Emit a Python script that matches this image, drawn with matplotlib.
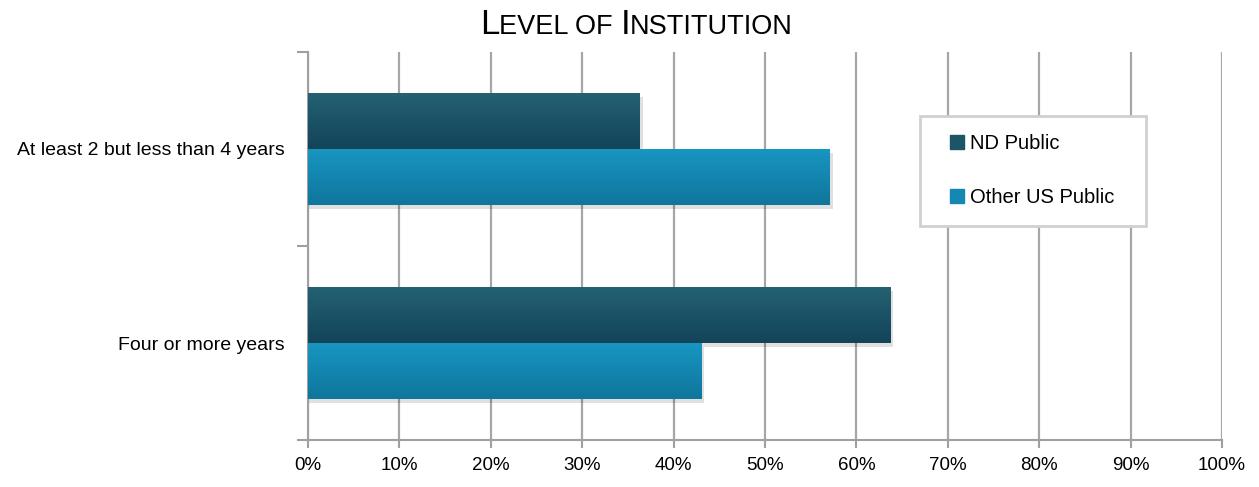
import matplotlib
matplotlib.use("Agg")
import matplotlib.pyplot as plt
import numpy as np
from matplotlib.colors import LinearSegmentedColormap
from matplotlib.patches import Rectangle

# data
categories = ["At least 2 but less than 4 years", "Four or more years"]
series_names = ["ND Public", "Other US Public"]
nd_public = [36.3, 63.7]
other_us = [57.1, 43.0]
x_ticks = [0, 10, 20, 30, 40, 50, 60, 70, 80, 90, 100]

# gradient colours (top, bottom) and legend colour
grad_colors = [("#246272", "#13445a"), ("#1896c2", "#0f769c")]
legend_colors = ["#1c5468", "#1488b3"]

plt.rcParams['font.family'] = ['Liberation Sans Narrow', 'Liberation Sans', 'DejaVu Sans']

fig = plt.figure(figsize=(12.59, 4.87), dpi=100)
ax = fig.add_axes([308/1259, 1-440/487, (1222-308)/1259, (440-52)/487])

y = np.arange(len(categories))
h = 0.29

for i, vals in enumerate([nd_public, other_us]):
    off = -h/2 if i == 0 else h/2
    # shadow
    ax.barh(y + off + 0.02, np.array(vals) + 0.35, height=h, left=0,
            color="#000000", alpha=0.12, zorder=2, linewidth=0)
    bars = ax.barh(y + off, vals, height=h, color=legend_colors[i], zorder=3,
                   linewidth=0, label=series_names[i])
    cmap = LinearSegmentedColormap.from_list("g%d" % i, list(grad_colors[i]))
    grad = np.linspace(0, 1, 64).reshape(-1, 1)
    for b in bars:
        x0, y0 = b.get_x(), b.get_y()
        w, bh = b.get_width(), b.get_height()
        im = ax.imshow(grad, extent=(x0, x0 + w, y0 + bh, y0), aspect='auto',
                       cmap=cmap, zorder=3.5, interpolation='bilinear')
        im.set_clip_path(b)

ax.set_xlim(0, 100)
ax.set_ylim(1.5, -0.5)
ax.set_xticks(x_ticks)
ax.set_xticklabels(["%d%%" % t for t in x_ticks])
ax.set_yticks(y)
ax.set_yticklabels(categories)
ax.set_yticks([-0.5, 0.5, 1.5], minor=True)
ax.tick_params(axis='y', which='major', length=0, pad=16.5, labelsize=14)
ax.tick_params(axis='y', which='minor', length=8, width=1.5, color="#a0a0a0")
ax.tick_params(axis='x', length=6, width=1.5, color="#a0a0a0", labelsize=13.5, pad=6)
ax.grid(axis='x', color="#a6a6a6", linewidth=1.6, zorder=0)
ax.set_axisbelow(True)
for s in ["top", "right"]:
    ax.spines[s].set_visible(False)
for s in ["left", "bottom"]:
    ax.spines[s].set_color("#a0a0a0")
    ax.spines[s].set_linewidth(1.5)

# legend: own frame box, entries without frame
box = Rectangle((920/1259, 1-226/487), 226/1259, 110/487, transform=fig.transFigure,
                facecolor="white", edgecolor="#d0d0d0", linewidth=2, zorder=5)
fig.patches.append(box)
handles = [Rectangle((0, 0), 1, 1, color=c) for c in legend_colors]
leg = fig.legend(handles, series_names, loc='center left',
                 bbox_to_anchor=(950/1259, 1-170.5/487), fontsize=14.5,
                 frameon=False, handlelength=0.68, handleheight=0.68,
                 handletextpad=0.3, borderpad=0, labelspacing=1.75,
                 borderaxespad=0)
leg.set_zorder(6)

# title in small caps
ty = 1 - 34/487
parts = [("L", 25), ("EVEL OF ", 19.5), ("I", 25), ("NSTITUTION", 19.5)]
texts = []
for txt, fs in parts:
    texts.append(fig.text(0, ty, txt, fontsize=fs, va='baseline', ha='left'))
fig.canvas.draw()
r = fig.canvas.get_renderer()
xpos = 480
for t in texts:
    t.set_x(xpos / 1259)
    xpos += t.get_window_extent(r).width

fig.savefig("out.png", dpi=100)
